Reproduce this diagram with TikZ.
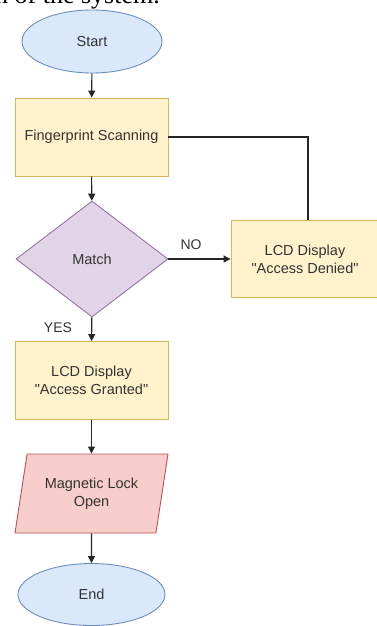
\documentclass[tikz,border=0pt]{standalone}
\usepackage{fontspec}
\setmainfont{Liberation Sans}[Ligatures=TeXOff]
\newfontfamily\serifdoc{Liberation Serif}
\usetikzlibrary{shapes.geometric,arrows.meta}
\definecolor{bluefill}{HTML}{DAE8FC}
\definecolor{bluedraw}{HTML}{6C8EBF}
\definecolor{yelfill}{HTML}{FFF2CC}
\definecolor{yeldraw}{HTML}{D6B656}
\definecolor{purfill}{HTML}{E1D5E7}
\definecolor{purdraw}{HTML}{9673A6}
\definecolor{redfill}{HTML}{F8CECC}
\definecolor{reddraw}{HTML}{B85450}
\definecolor{txt}{HTML}{333333}
\tikzset{
  base/.style={font=\fontsize{14.5}{18}\selectfont, text=txt, align=center, line width=0.9pt, inner sep=0pt},
  term/.style={base, ellipse, fill=bluefill, draw=bluedraw, minimum width=140pt, minimum height=63pt},
  proc/.style={base, rectangle, fill=yelfill, draw=yeldraw, minimum width=153pt, minimum height=78pt},
  dec/.style={base, diamond, fill=purfill, draw=purdraw, minimum width=152pt, minimum height=116pt, aspect=1.31},
  io/.style={base, trapezium, trapezium left angle=69, trapezium right angle=111, fill=redfill, draw=reddraw, minimum width=153pt, minimum height=79pt, trapezium stretches body},
  conn/.style={line width=1.1pt, draw=black!85, -{Triangle[length=7pt,width=7pt]}},
  line/.style={line width=1.1pt, draw=black!85},
  lbl/.style={font=\fontsize{14}{16}\selectfont, text=txt, inner sep=0pt}
}
\begin{document}
\begin{tikzpicture}[x=1pt,y=-1pt]
\useasboundingbox (0,0) rectangle (377,626);
\clip (0,0) rectangle (377,626);
\fill[white] (0,0) rectangle (377,626);
\node[anchor=base west, inner sep=0pt, font=\serifdoc\fontsize{26}{28}\selectfont] (doc) at (-5,4) {n of the system.};
\node[term] (start) at (92,41.5) {Start};
\node[proc] (scan) at (91.5,137) {Fingerprint Scanning};
\node[dec] (match) at (92,259) {Match};
\node[proc, minimum width=148pt, minimum height=77pt] (denied) at (305,259) {LCD Display\\"Access Denied"};
\node[proc] (granted) at (91.5,380.5) {LCD Display\\"Access Granted"};
\node[io] (lock) at (91.5,493.5) {Magnetic Lock\\Open};
\node[term, minimum width=147pt, minimum height=62pt] (end) at (91.5,594.5) {End};
\draw[conn] (start) -- (scan);
\draw[conn] (scan) -- (match);
\draw[line] (scan.east) -| (denied.north -| 308,0);
\draw[conn] (match) -- (denied);
\node[lbl] (no) at (191,245) {NO};
\draw[conn] (match) -- (granted);
\node[lbl] (yes) at (58,328) {YES};
\draw[conn] (granted) -- (lock);
\draw[conn] (lock) -- (end);
\end{tikzpicture}
\end{document}
